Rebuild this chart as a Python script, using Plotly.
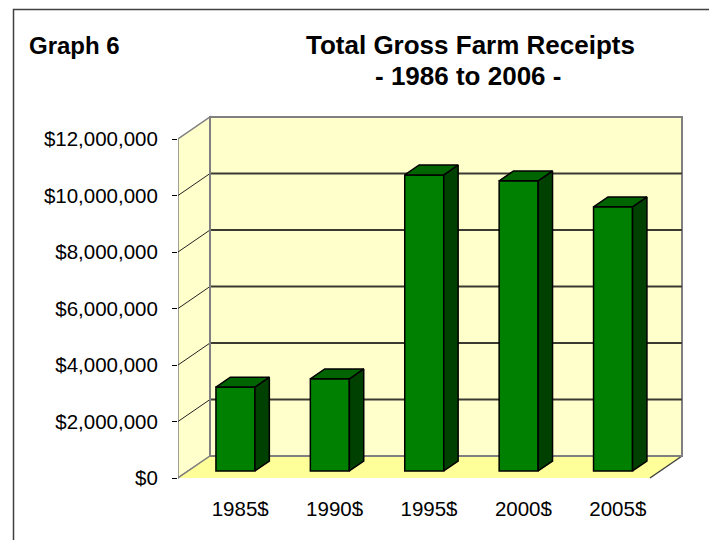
import plotly.graph_objects as go

# ---------------- data ----------------
categories = ["1985$", "1990$", "1995$", "2000$", "2005$"]
receipts = [2970000, 3260000, 10480000, 10270000, 9350000]
y_tick_values = [0, 2000000, 4000000, 6000000, 8000000, 10000000, 12000000]
title_line1 = "Total Gross Farm Receipts"
title_line2 = "- 1986 to 2006 -"
graph_label = "Graph 6"

# ---------------- geometry / style ----------------
W, H = 709, 540
ML, MR, MT, MB = 178, 19, 100, 50
PW, PH = W - ML - MR, H - MT - MB
CAT_PX = 94.4                     # pixels per category on the front plane
Y_PX = 339 / 12e6                 # pixels per dollar
FRONT_ZERO_PX = 478               # pixel row of $0 on the front plane
x_range = [-0.5, -0.5 + PW / CAT_PX]
y_range = [-(H - MB - FRONT_ZERO_PX) / Y_PX, (FRONT_ZERO_PX - MT) / Y_PX]
DX = 32 / CAT_PX                  # depth offset (x) in data units
DY = 22 / Y_PX                    # depth offset (y) in data units
F0, F1 = 0.32, 0.77               # bar front/back depth fractions
BAR_W = 39 / CAT_PX
LABEL_SHIFT = 15 / CAT_PX
YMAX = y_tick_values[-1]
n = len(categories)
x_left, x_right = -0.5, n - 0.5

FONT = "Liberation Sans, Arial, sans-serif"
WALL = "#FFFFCC"
FLOOR = "#FFFF99"
EDGE = "#808080"
GRID = "#3a3a33"
FRONT_C = "#008000"
SIDE_C = "#004000"
TOP_C = "#006400"


def px_x(px):
    return (px - ML) / PW


def px_y(py):
    return (H - MB - py) / PH


def path(pts):
    return "M " + " L ".join(f"{x},{y}" for x, y in pts) + " Z"


shapes = []
# back wall
shapes.append(dict(type="rect", xref="x", yref="y", layer="below",
                   x0=x_left + DX, x1=x_right + DX, y0=DY, y1=YMAX + DY,
                   fillcolor=WALL, line=dict(color=EDGE, width=2)))
# left side wall
shapes.append(dict(type="path", xref="x", yref="y", layer="below",
                   path=path([(x_left, 0), (x_left, YMAX), (x_left + DX, YMAX + DY), (x_left + DX, DY)]),
                   fillcolor=WALL, line=dict(color=EDGE, width=1.5)))
# floor
shapes.append(dict(type="path", xref="x", yref="y", layer="below",
                   path=path([(x_left, 0), (x_right, 0), (x_right + DX, DY), (x_left + DX, DY)]),
                   fillcolor=FLOOR, line=dict(width=0)))
# floor right edge
shapes.append(dict(type="line", xref="x", yref="y", layer="below",
                   x0=x_right, y0=0, x1=x_right + DX, y1=DY,
                   line=dict(color="#404040", width=1.5)))
# floor left edge / back edge
shapes.append(dict(type="line", xref="x", yref="y", layer="below",
                   x0=x_left, y0=0, x1=x_left + DX, y1=DY,
                   line=dict(color=EDGE, width=1.5)))
shapes.append(dict(type="line", xref="x", yref="y", layer="below",
                   x0=x_left + DX, y0=DY, x1=x_right + DX, y1=DY,
                   line=dict(color=EDGE, width=2)))
# gridlines
for v in y_tick_values[1:-1]:
    shapes.append(dict(type="line", xref="x", yref="y", layer="below",
                       x0=x_left, y0=v, x1=x_left + DX, y1=v + DY,
                       line=dict(color="#222222", width=1)))
    shapes.append(dict(type="line", xref="x", yref="y", layer="below",
                       x0=x_left + DX, y0=v + DY, x1=x_right + DX, y1=v + DY,
                       line=dict(color=GRID, width=1.8)))
# back wall left edge redraw (gray over gridline starts)
shapes.append(dict(type="line", xref="x", yref="y", layer="below",
                   x0=x_left + DX, y0=DY, x1=x_left + DX, y1=YMAX + DY,
                   line=dict(color=EDGE, width=2)))

# clip strip below x labels and frame (top + left border)
shapes.append(dict(type="rect", xref="paper", yref="paper", layer="above",
                   x0=px_x(15), x1=px_x(W + 5), y0=px_y(H + 5), y1=px_y(516),
                   fillcolor="white", line=dict(width=0)))
shapes.append(dict(type="path", xref="paper", yref="paper", layer="above",
                   path=f"M {px_x(13.5)},{px_y(H + 5)} L {px_x(13.5)},{px_y(9.5)} L {px_x(W + 5)},{px_y(9.5)}",
                   line=dict(color="#404040", width=1.5)))

fig = go.Figure()

# front faces of the bars
bar_x = [i + F0 * DX for i in range(n)]
fig.add_trace(go.Bar(
    x=bar_x, y=receipts, base=[F0 * DY] * n, width=BAR_W,
    marker=dict(color=FRONT_C, line=dict(color="black", width=1.5)),
    hoverinfo="skip", showlegend=False))

# side and top faces derived from the same values
ddx = (F1 - F0) * DX
ddy = (F1 - F0) * DY
for i, v in enumerate(receipts):
    xl = bar_x[i] - BAR_W / 2
    xr = bar_x[i] + BAR_W / 2
    yb = F0 * DY
    yt = v + F0 * DY
    side = [(xr, yb), (xr, yt), (xr + ddx, yt + ddy), (xr + ddx, yb + ddy), (xr, yb)]
    top = [(xl, yt), (xr, yt), (xr + ddx, yt + ddy), (xl + ddx, yt + ddy), (xl, yt)]
    for pts, col in ((side, SIDE_C), (top, TOP_C)):
        fig.add_trace(go.Scatter(
            x=[p[0] for p in pts], y=[p[1] for p in pts], mode="lines",
            fill="toself", fillcolor=col, line=dict(color="black", width=1.5),
            hoverinfo="skip", showlegend=False))

fig.update_layout(
    width=W, height=H,
    margin=dict(l=ML, r=MR, t=MT, b=MB, pad=0),
    paper_bgcolor="white", plot_bgcolor="rgba(0,0,0,0)",
    font=dict(family=FONT, color="black"),
    shapes=shapes,
    xaxis=dict(range=x_range, showgrid=False, zeroline=False, showline=False,
               tickmode="array", tickvals=[i + LABEL_SHIFT for i in range(n)],
               ticktext=categories, ticks="", tickfont=dict(size=20.5, family=FONT),
               ticklabelstandoff=4, fixedrange=True),
    yaxis=dict(range=y_range, showgrid=False, zeroline=False, showline=False,
               tickmode="array", tickvals=y_tick_values,
               ticktext=[f"${v:,.0f}" for v in y_tick_values],
               ticks="outside", ticklen=5, tickwidth=1, tickcolor="black",
               tickfont=dict(size=20.5, family=FONT), ticklabelstandoff=10,
               fixedrange=True),
    annotations=[
        dict(text=f"<b>{graph_label}</b>", xref="paper", yref="paper",
             x=px_x(27), y=px_y(45), xanchor="left", yanchor="middle",
             showarrow=False, font=dict(size=24, family=FONT)),
        dict(text=f"<b>{title_line1}</b>", xref="paper", yref="paper",
             x=px_x(470), y=px_y(45), xanchor="center", yanchor="middle",
             showarrow=False, font=dict(size=26, family=FONT)),
        dict(text=f"<b>{title_line2}</b>", xref="paper", yref="paper",
             x=px_x(468), y=px_y(75.5), xanchor="center", yanchor="middle",
             showarrow=False, font=dict(size=26, family=FONT)),
    ],
)

fig.write_html("out.html", config={"displayModeBar": False},
               post_script="document.body.style.margin='0';document.body.style.padding='0';")
